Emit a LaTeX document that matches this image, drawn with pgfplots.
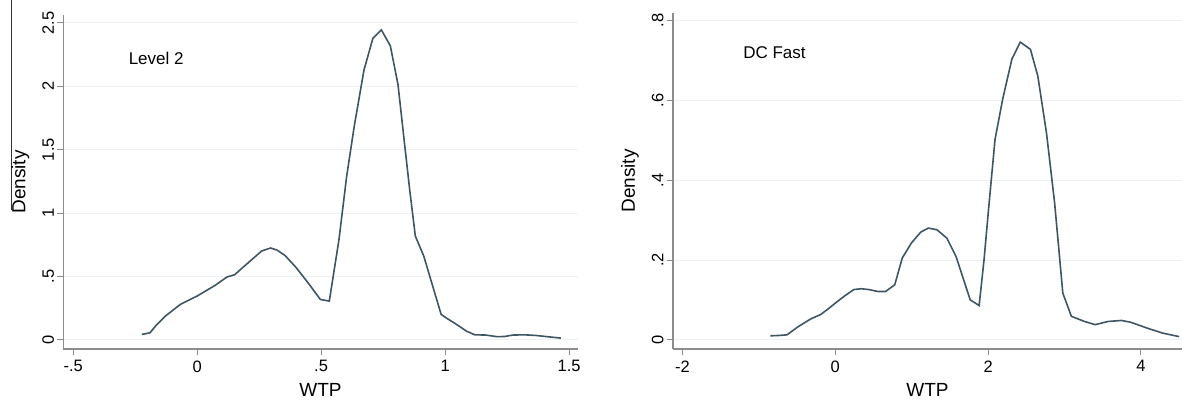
\documentclass[border=0pt]{standalone}
\usepackage{pgfplots}
\pgfplotsset{compat=1.18}
\usepackage{fontspec}
\setmainfont{Liberation Sans}
\definecolor{curve}{RGB}{62,86,100}
\definecolor{gridc}{RGB}{236,242,243}
\definecolor{axc}{RGB}{140,140,140}

\pgfplotsset{
  stata/.style={
    scale only axis,
    axis x line*=bottom, axis y line*=left,
    axis line style={axc, line width=1.2pt},
    tick align=outside, major tick length=6pt,
    tick style={axc, line width=1pt},
    ymajorgrids, grid style={gridc, line width=1pt},
    ticklabel style={font=\fontsize{16.5}{18}\selectfont},
    xticklabel shift=2pt,
    yticklabel style={rotate=90, anchor=south},
    label style={font=\fontsize{19}{21}\selectfont},
    xlabel shift=4pt, ylabel shift=6pt,
    /pgf/number format/assume math mode=true,
    clip=false,
  },
  dens/.style={curve, line width=1.6pt, no marks},
}

\begin{document}
\begin{tikzpicture}
\useasboundingbox (0pt,0pt) rectangle (1182pt,401pt);
\draw[black!80, line width=1pt] (11pt,401pt) -- (11pt,191pt);

% Level 2
\begin{axis}[stata,
  at={(63.5pt,52pt)}, anchor=south west,
  width=514pt, height=334pt,
  xmin=-0.539, xmax=1.534, ymin=-0.073, ymax=2.563,
  xtick={-0.5,0,0.5,1,1.5}, xticklabels={-.5,0,.5,1,1.5},
  ytick={0,0.5,1,1.5,2,2.5}, yticklabels={0,.5,1,1.5,2,2.5},
  xlabel={WTP}, ylabel={Density},
]
\addplot[dens] coordinates {
(-0.223,0.042) (-0.19,0.055) (-0.168,0.108) (-0.126,0.19) (-0.067,0.28)
(0,0.345) (0.073,0.43) (0.12,0.495) (0.151,0.513) (0.213,0.62)
(0.26,0.70) (0.296,0.724) (0.322,0.708) (0.354,0.666) (0.4,0.568)
(0.447,0.45) (0.497,0.318) (0.533,0.305) (0.572,0.79) (0.603,1.29)
(0.634,1.69) (0.673,2.13) (0.709,2.38) (0.743,2.445) (0.779,2.32)
(0.81,2.015) (0.836,1.555) (0.857,1.187) (0.88,0.818) (0.914,0.66)
(0.942,0.476) (0.984,0.2) (1.008,0.168) (1.047,0.12) (1.086,0.068)
(1.12,0.039) (1.164,0.037) (1.21,0.024) (1.241,0.026) (1.273,0.037)
(1.32,0.039) (1.366,0.034) (1.413,0.024) (1.467,0.013)
};
\node[anchor=west, font=\fontsize{17}{19}\selectfont] at (axis cs:-0.29,2.22) {Level 2};
\end{axis}

% DC Fast
\begin{axis}[stata,
  at={(673pt,52pt)}, anchor=south west,
  width=509pt, height=336pt,
  xmin=-2.124, xmax=4.537, ymin=-0.023, ymax=0.819,
  xtick={-2,0,2,4},
  ytick={0,0.2,0.4,0.6,0.8}, yticklabels={0,.2,.4,.6,.8},
  xlabel={WTP}, ylabel={Density},
]
\addplot[dens] coordinates {
(-0.851,0.010) (-0.73,0.011) (-0.632,0.0125) (-0.486,0.033) (-0.316,0.053)
(-0.195,0.063) (-0.097,0.077) (0,0.092) (0.122,0.11) (0.243,0.126)
(0.34,0.128) (0.438,0.126) (0.559,0.121) (0.657,0.121) (0.778,0.138)
(0.876,0.205) (0.997,0.243) (1.119,0.27) (1.216,0.28) (1.328,0.276)
(1.459,0.255) (1.58,0.209) (1.678,0.151) (1.766,0.10) (1.882,0.086)
(1.946,0.20) (2.009,0.335) (2.09,0.502) (2.19,0.603) (2.31,0.703)
(2.42,0.746) (2.553,0.728) (2.65,0.661) (2.763,0.519) (2.87,0.343)
(2.977,0.117) (3.089,0.059) (3.26,0.046) (3.40,0.038) (3.57,0.046)
(3.745,0.0485) (3.866,0.044) (4.086,0.029) (4.28,0.017) (4.50,0.008)
};
\node[anchor=west, font=\fontsize{17}{19}\selectfont] at (axis cs:-1.25,0.72) {DC Fast};
\end{axis}
\end{tikzpicture}
\end{document}
